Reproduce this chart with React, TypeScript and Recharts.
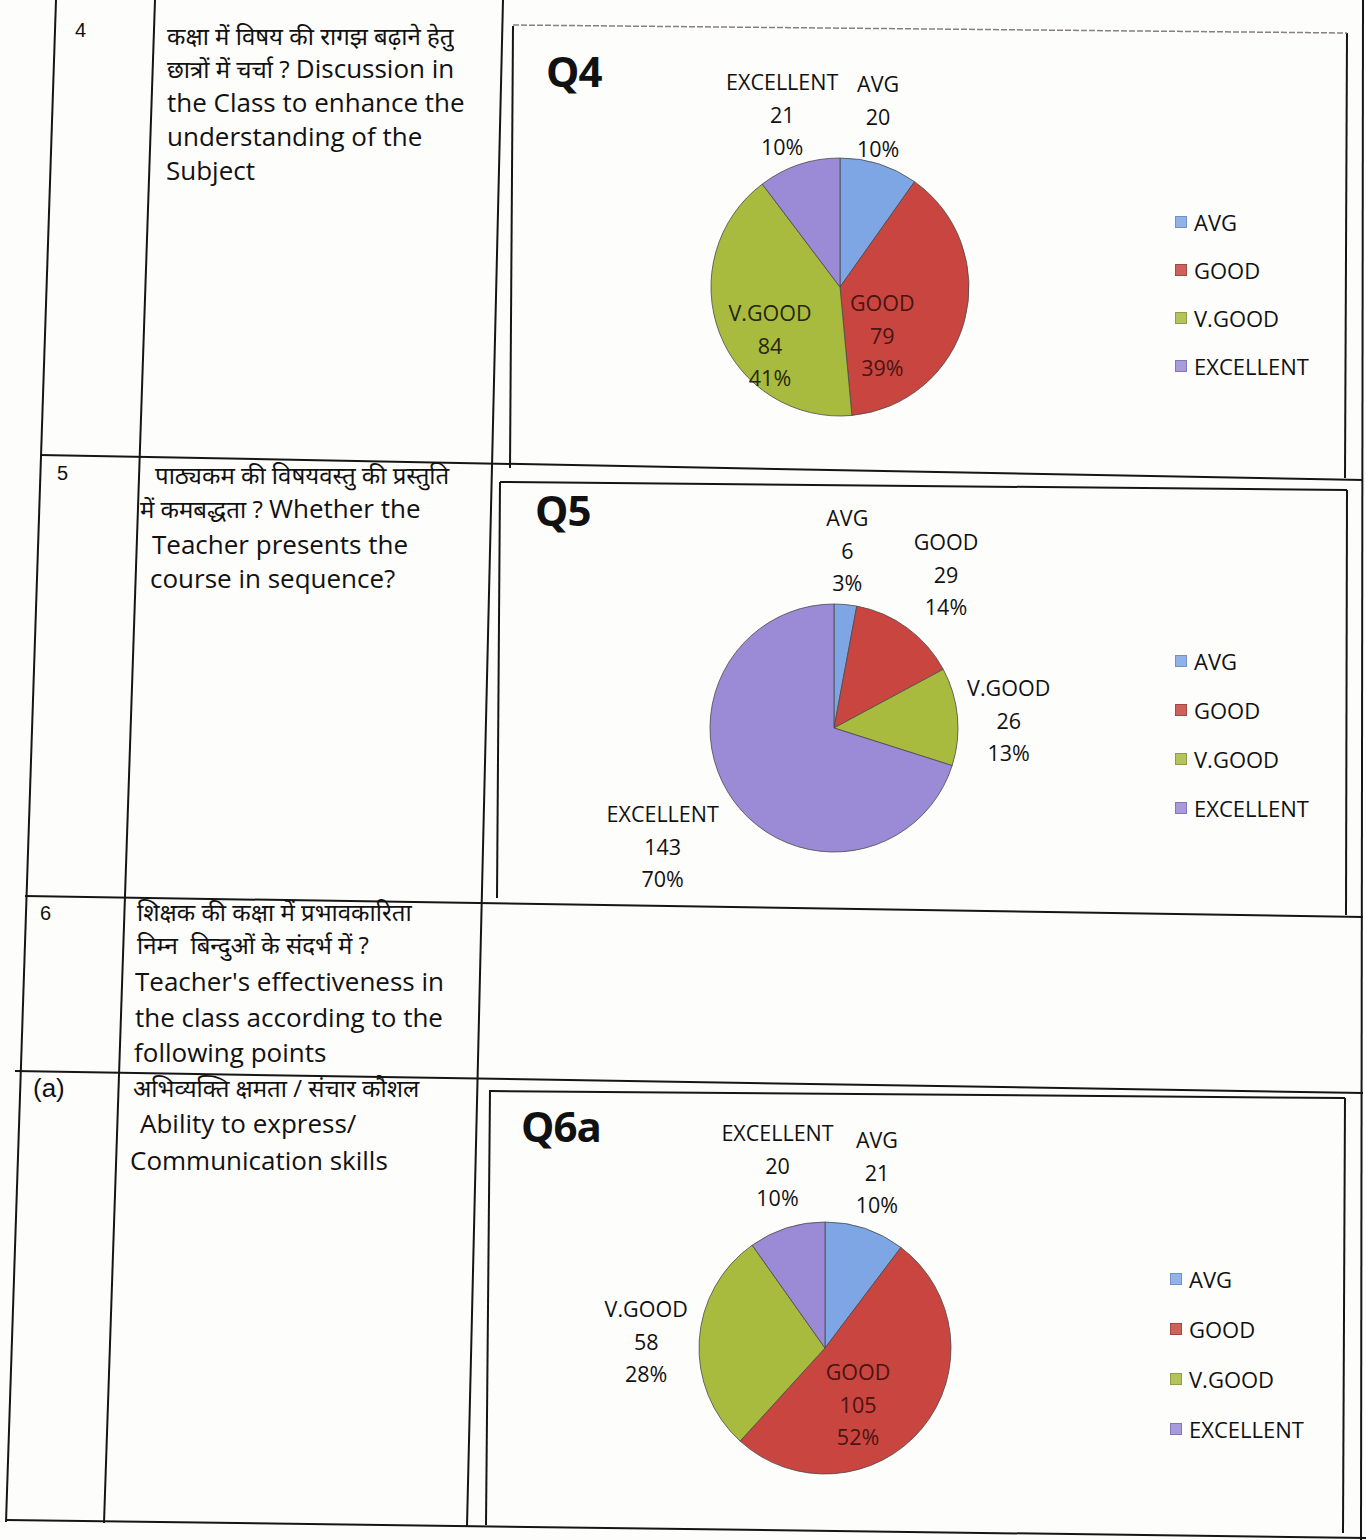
import React from 'react'
import { PieChart, Pie, Cell, Legend } from 'recharts'

// categories / colours shared by the three pies
const categories = ['AVG', 'GOOD', 'V.GOOD', 'EXCELLENT']
const colors = ['#7FA6E4', '#C8463F', '#A9BB3E', '#9B8AD6']
const edge = ['#5a7fbf', '#8e2b27', '#7e8c28', '#6e5fa8']

// Q4
const q4Values = [20, 79, 84, 21]
const q4Pct = ['10%', '39%', '41%', '10%']
// Q5
const q5Values = [6, 29, 26, 143]
const q5Pct = ['3%', '14%', '13%', '70%']
// Q6a
const q6aValues = [21, 105, 58, 20]
const q6aPct = ['10%', '52%', '28%', '10%']

const FONT = '"Open Sans", "Noto Sans", sans-serif'
const RAD = Math.PI / 180

type Place = [number, number] // [radius factor, angle shift]

type ChartProps = {
  title: string
  values: number[]
  pct: string[]
  box: { left: number; top: number; width: number; height: number }
  pie: { cx: number; cy: number; r: number }
  places: Place[]
  titlePos: { left: number; top: number }
  legend: { left: number; top: number; gap: number }
}

function makeLabel(places: Place[], pct: string[]) {
  return (props: any) => {
    const { cx, cy, midAngle, outerRadius, index, name, value } = props
    const [f, d] = places[index]
    const a = (midAngle + d) * RAD
    const x = cx + outerRadius * f * Math.cos(-a)
    const y = cy + outerRadius * f * Math.sin(-a)
    const inside = f < 1
    const fill = inside ? (index === 1 ? '#4a1412' : '#26260f') : '#111'
    return (
      <text x={x} y={y} textAnchor="middle" fontFamily={FONT} fontSize={21.5} fill={fill}>
        <tspan x={x} y={y - 25}>{name}</tspan>
        <tspan x={x} y={y + 8}>{value}</tspan>
        <tspan x={x} y={y + 40}>{pct[index]}</tspan>
      </text>
    )
  }
}

function LegendBox({ payload, gap }: any) {
  // keep the series order of the data, not the alphabetic one
  const items = categories.map((c) => {
    const p = (payload || []).find((q: any) => q.value === c)
    return { value: c, color: p?.color }
  })
  return (
    <div style={{ fontFamily: FONT }}>
      {items.map((p: any, i: number) => (
        <div key={p.value} style={{ height: gap, display: 'flex', alignItems: 'center' }}>
          <span style={{ width: 10, height: 10, background: colors[i], border: `1px solid ${edge[i]}`, marginRight: 7, display: 'inline-block', opacity: 0.85 }} />
          <span style={{ fontSize: 22, color: '#111' }}>{p.value}</span>
        </div>
      ))}
    </div>
  )
}

function ChartBlock({ title, values, pct, box, pie, places, titlePos, legend }: ChartProps) {
  const data = categories.map((name, i) => ({ name, value: values[i] }))
  return (
    <div style={{ position: 'absolute', left: box.left, top: box.top, width: box.width, height: box.height }}>
      <div style={{ position: 'absolute', left: titlePos.left, top: titlePos.top, fontFamily: FONT, fontWeight: 700, fontSize: 42, color: '#111', lineHeight: '50px', letterSpacing: -1 }}>
        {title}
      </div>
      <PieChart width={box.width} height={box.height} margin={{ top: 0, right: 0, bottom: 0, left: 0 }}>
        <Pie
          data={data}
          dataKey="value"
          nameKey="name"
          cx={pie.cx}
          cy={pie.cy}
          outerRadius={pie.r}
          startAngle={90}
          endAngle={-270}
          stroke="#4a4a4a"
          strokeWidth={0.8}
          labelLine={false}
          label={makeLabel(places, pct)}
          isAnimationActive={false}
        >
          {data.map((d, i) => (
            <Cell key={d.name} fill={colors[i]} />
          ))}
        </Pie>
        <Legend
          layout="vertical"
          align="right"
          verticalAlign="top"
          wrapperStyle={{ left: legend.left, top: legend.top, width: 180 }}
          content={(p: any) => <LegendBox payload={p.payload} gap={legend.gap} />}
        />
      </PieChart>
    </div>
  )
}

type Line = { text: React.ReactNode; x: number; cy: number; size?: number; family?: string }

const hin = (s: string) => <span style={{ fontSize: 24, lineHeight: '30px' }}>{s}</span>

const lines: Line[] = [
  { text: '4', x: 75, cy: 30, size: 20, family: 'Arial, "Liberation Sans", sans-serif' },
  { text: hin('कक्षा में विषय की रागझ बढ़ाने हेतु'), x: 167, cy: 35 },
  { text: <>{hin('छात्रों में चर्चा ? ')}Discussion in</>, x: 167, cy: 68 },
  { text: 'the Class to enhance the', x: 167, cy: 102 },
  { text: 'understanding of the', x: 167, cy: 136 },
  { text: 'Subject', x: 166, cy: 170 },

  { text: '5', x: 57, cy: 473, size: 20, family: 'Arial, "Liberation Sans", sans-serif' },
  { text: hin('पाठ्यकम की विषयवस्तु की प्रस्तुति'), x: 155, cy: 474 },
  { text: <>{hin('में कमबद्धता ? ')}Whether the</>, x: 140, cy: 508 },
  { text: 'Teacher presents the', x: 152, cy: 544 },
  { text: 'course in sequence?', x: 150, cy: 578 },

  { text: '6', x: 40, cy: 913, size: 20, family: 'Arial, "Liberation Sans", sans-serif' },
  { text: hin('शिक्षक की कक्षा में प्रभावकारिता'), x: 137, cy: 911 },
  { text: hin('निम्न  बिन्दुओं के संदर्भ में ?'), x: 137, cy: 944 },
  { text: "Teacher's effectiveness in", x: 135, cy: 981 },
  { text: 'the class according to the', x: 135, cy: 1017 },
  { text: 'following points', x: 134, cy: 1052 },

  { text: '(a)', x: 33, cy: 1088, size: 26, family: 'Arial, "Liberation Sans", sans-serif' },
  { text: hin('अभिव्यक्ति क्षमता / संचार कौशल'), x: 133, cy: 1087 },
  { text: 'Ability to express/', x: 140, cy: 1123 },
  { text: 'Communication skills', x: 130, cy: 1160 },
]

// table rules of the scanned page [x1, y1, x2, y2]
const rules: number[][] = [
  [56, 0, 6, 1522],
  [155, 0, 104, 1523],
  [503, 0, 467, 1526],
  [1363, 0, 1361, 1540],
  [40, 455, 1363, 480],
  [25, 896, 1363, 917],
  [15, 1071, 1363, 1093],
  [6, 1520, 1366, 1538],
  // chart frames
  [513, 26, 510, 468],
  [1347, 33, 1345, 478],
  [500, 482, 497, 898],
  [500, 482, 1347, 490],
  [1347, 490, 1346, 915],
  [490, 1090, 486, 1525],
  [490, 1091, 1345, 1098],
  [1345, 1098, 1343, 1533],
]

export default function App() {
  return (
    <div style={{ position: 'absolute', left: 0, top: 0, width: 1366, height: 1540, background: '#fdfdfc', overflow: 'hidden', fontFamily: FONT }}>
      <svg width={1366} height={1540} style={{ position: 'absolute', left: 0, top: 0 }}>
        {rules.map((r, i) => (
          <line key={i} x1={r[0]} y1={r[1]} x2={r[2]} y2={r[3]} stroke="#151515" strokeWidth={2} />
        ))}
        <line x1={513} y1={25} x2={1347} y2={33} stroke="#8a7f7a" strokeWidth={1.5} strokeDasharray="6 2" />
      </svg>

      {lines.map((l, i) => {
        const size = l.size ?? 26
        const lh = 30
        return (
          <div
            key={i}
            style={{
              position: 'absolute',
              left: l.x,
              top: l.cy - lh / 2,
              height: lh,
              fontSize: size,
              lineHeight: `${lh}px`,
              fontFamily: l.family ?? FONT,
              color: '#111',
              whiteSpace: 'pre',
            }}
          >
            {l.text}
          </div>
        )
      })}

      <ChartBlock
        title="Q4"
        values={q4Values}
        pct={q4Pct}
        box={{ left: 514, top: 28, width: 830, height: 440 }}
        pie={{ cx: 326, cy: 259, r: 129 }}
        places={[[1.35, 5], [0.5, -34], [0.71, 19], [1.41, 0]]}
        titlePos={{ left: 32, top: 18 }}
        legend={{ left: 661, top: 170, gap: 48 }}
      />
      <ChartBlock
        title="Q5"
        values={q5Values}
        pct={q5Pct}
        box={{ left: 500, top: 485, width: 845, height: 425 }}
        pie={{ cx: 334, cy: 243, r: 124 }}
        places={[[1.43, 1], [1.53, 0], [1.41, -3], [1.68, -1.5]]}
        titlePos={{ left: 35, top: 0 }}
        legend={{ left: 675, top: 151, gap: 49 }}
      />
      <ChartBlock
        title="Q6a"
        values={q6aValues}
        pct={q6aPct}
        box={{ left: 488, top: 1095, width: 855, height: 428 }}
        pie={{ cx: 337, cy: 253, r: 126 }}
        places={[[1.45, 2], [0.52, -20], [1.42, 1.6], [1.49, -3]]}
        titlePos={{ left: 33, top: 6 }}
        legend={{ left: 682, top: 159, gap: 50 }}
      />
    </div>
  )
}
